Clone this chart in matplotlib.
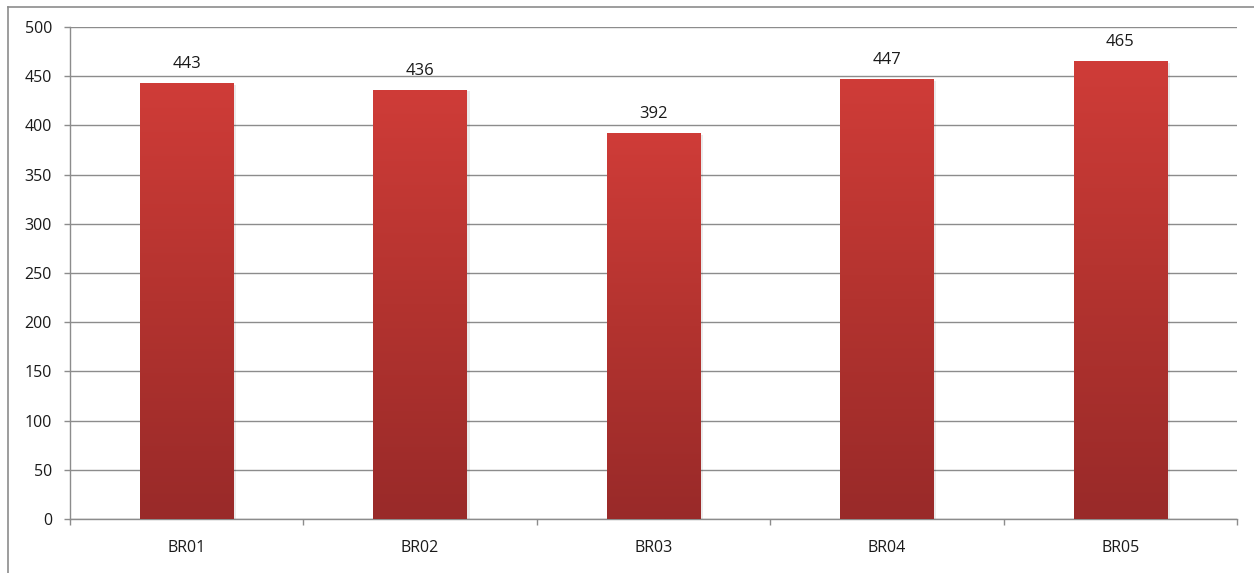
import numpy as np
import matplotlib.pyplot as plt
from matplotlib.colors import LinearSegmentedColormap
from matplotlib.lines import Line2D

categories = ["BR01", "BR02", "BR03", "BR04", "BR05"]
values = [443, 436, 392, 447, 465]
y_ticks = [0, 50, 100, 150, 200, 250, 300, 350, 400, 450, 500]

W, H = 1254, 573
fig = plt.figure(figsize=(W / 100, H / 100), dpi=100)
plt.rcParams['font.family'] = ['Open Sans', 'DejaVu Sans']

ax = fig.add_axes([70 / W, (H - 519) / H, (1237 - 70) / W, (519 - 27) / H])

# outer chart frame
fig.add_artist(Line2D([8 / W, 8 / W], [0, 1 - 7 / H], color='#8c8c8c', lw=1.2))
fig.add_artist(Line2D([8 / W, 1], [1 - 7 / H, 1 - 7 / H], color='#8c8c8c', lw=1.2))

x = np.arange(len(categories))
bars = ax.bar(x, values, width=0.4, color='none', zorder=3)

cmap = LinearSegmentedColormap.from_list('red_grad', ['#992a29', '#b3332f', '#cf3c38'])
grad = np.linspace(0, 1, 256).reshape(-1, 1)
for b, v in zip(bars, values):
    x0 = b.get_x()
    w = b.get_width()
    # faint shadow on the right side
    ax.bar(x0 + w / 2 + 0.012, v - 1.5, width=w, bottom=0, color='#000000',
           alpha=0.08, zorder=2, align='center')
    im = ax.imshow(grad, cmap=cmap, aspect='auto', origin='lower',
                   extent=(x0, x0 + w, 0, v), zorder=3)
    im.set_clip_path(b)
    ax.annotate(str(v), (x0 + w / 2, v), xytext=(0, 8), textcoords='offset points',
                ha='center', va='bottom', fontsize=12, color='#1a1a1a')

ax.set_xlim(-0.5, len(categories) - 0.5)
ax.set_ylim(0, 500)
ax.set_yticks(y_ticks)
ax.set_yticklabels([str(t) for t in y_ticks], fontsize=11.5, color='#1a1a1a')

ax.set_xticks(x)
ax.set_xticklabels(categories, fontsize=11.5, color='#1a1a1a')
ax.tick_params(axis='x', which='major', length=0, pad=15)
ax.set_xticks(np.arange(len(categories) + 1) - 0.5, minor=True)
ax.tick_params(axis='x', which='minor', length=4, color='#8c8c8c', width=1)
ax.tick_params(axis='y', length=4, color='#8c8c8c', width=1, pad=9)

ax.grid(axis='y', color='#8c8c8c', lw=1, zorder=0)
ax.set_axisbelow(True)
for s in ['top', 'right']:
    ax.spines[s].set_visible(False)
for s in ['left', 'bottom']:
    ax.spines[s].set_color('#8c8c8c')
    ax.spines[s].set_linewidth(1)

fig.savefig('out.png', dpi=100)
